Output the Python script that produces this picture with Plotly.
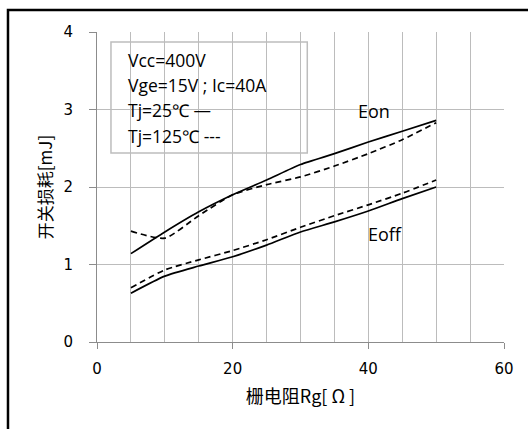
import plotly.graph_objects as go

rg = [5, 10, 15, 20, 25, 30, 35, 40, 45, 50]
eon_25 = [1.14, 1.42, 1.68, 1.90, 2.09, 2.29, 2.43, 2.58, 2.72, 2.86]
eon_125 = [1.43, 1.34, 1.63, 1.90, 2.03, 2.13, 2.27, 2.43, 2.61, 2.83]
eoff_25 = [0.63, 0.85, 0.98, 1.10, 1.25, 1.42, 1.55, 1.69, 1.85, 2.00]
eoff_125 = [0.70, 0.93, 1.06, 1.18, 1.32, 1.48, 1.63, 1.77, 1.92, 2.09]

info_lines = ["Vcc=400V", "Vge=15V ; Ic=40A", "Tj=25\u2103 \u2014", "Tj=125\u2103 ---"]
info_y = [3.64, 3.32, 3.00, 2.66]

x_title = "栅电阻Rg[ Ω ]"
y_title = "开关损耗[mJ]"

fig = go.Figure()
for ys, dash in [(eon_25, "solid"), (eon_125, "6px,4px"), (eoff_25, "solid"), (eoff_125, "6px,4px")]:
    fig.add_trace(go.Scatter(x=rg, y=ys, mode="lines",
                             line=dict(color="black", width=1.7, dash=dash, shape="spline", smoothing=0.6),
                             showlegend=False, hoverinfo="skip"))

# info box
fig.add_shape(type="rect", xref="x", yref="y", x0=2.06, x1=31.0, y0=2.44, y1=3.87,
              fillcolor="white", line=dict(color="#bdbdbd", width=1.5), layer="below")
for t, y in zip(info_lines, info_y):
    fig.add_annotation(x=4.38, y=y, xref="x", yref="y", text=t, showarrow=False,
                       xanchor="left", yanchor="middle", borderpad=0,
                       font=dict(family="Open Sans", size=17.5, color="black"))

# curve labels with white backgrounds
fig.add_shape(type="rect", xref="x", yref="y", x0=36.3, x1=45.7, y0=2.86, y1=3.11,
              fillcolor="white", line=dict(width=0), layer="below")
fig.add_shape(type="rect", xref="x", yref="y", x0=37.6, x1=47.3, y0=1.19, y1=1.57,
              fillcolor="white", line=dict(width=0), layer="below")
fig.add_annotation(x=40.85, y=2.98, xref="x", yref="y", text="Eon", showarrow=False,
                   font=dict(family="Open Sans", size=18, color="black"))
fig.add_annotation(x=42.5, y=1.40, xref="x", yref="y", text="Eoff", showarrow=False,
                   font=dict(family="Open Sans", size=18, color="black"))

# outer frame
fig.add_shape(type="rect", xref="paper", yref="paper", x0=-0.2187, x1=1.3, y0=-0.5, y1=1.071,
              line=dict(color="black", width=2.5), fillcolor="rgba(0,0,0,0)", layer="above")

grid_c = "#bcbcbc"
fig.update_xaxes(range=[0, 60], dtick=20, tick0=0, showgrid=True, gridcolor=grid_c, gridwidth=1,
                 minor=dict(dtick=5, tick0=0, showgrid=True, gridcolor=grid_c, gridwidth=1),
                 showline=True, linecolor="#8c8c8c", linewidth=1,
                 ticks="outside", ticklen=6, tickcolor="#8c8c8c", ticklabelstandoff=7,
                 zeroline=False,
                 tickfont=dict(family="DejaVu Sans", size=15, color="black"),
                 title=dict(text=x_title, font=dict(family="Noto Sans CJK SC", size=18, color="black"), standoff=13))
fig.update_yaxes(range=[0, 4], dtick=1, tick0=0, showgrid=True, gridcolor=grid_c, gridwidth=1,
                 showline=True, linecolor="#8c8c8c", linewidth=1,
                 ticks="outside", ticklen=7, tickcolor="#8c8c8c", ticklabelstandoff=13,
                 zeroline=False,
                 tickfont=dict(family="DejaVu Sans", size=15, color="black"),
                 title=dict(text=y_title, font=dict(family="Noto Sans CJK SC", size=17, color="black"), standoff=6))

fig.update_layout(width=528, height=429, margin=dict(l=97, r=24, t=32, b=87),
                  plot_bgcolor="white", paper_bgcolor="white", showlegend=False)

fig.write_html("out.html", config={"displayModeBar": False},
               post_script="document.body.style.margin='0';")
